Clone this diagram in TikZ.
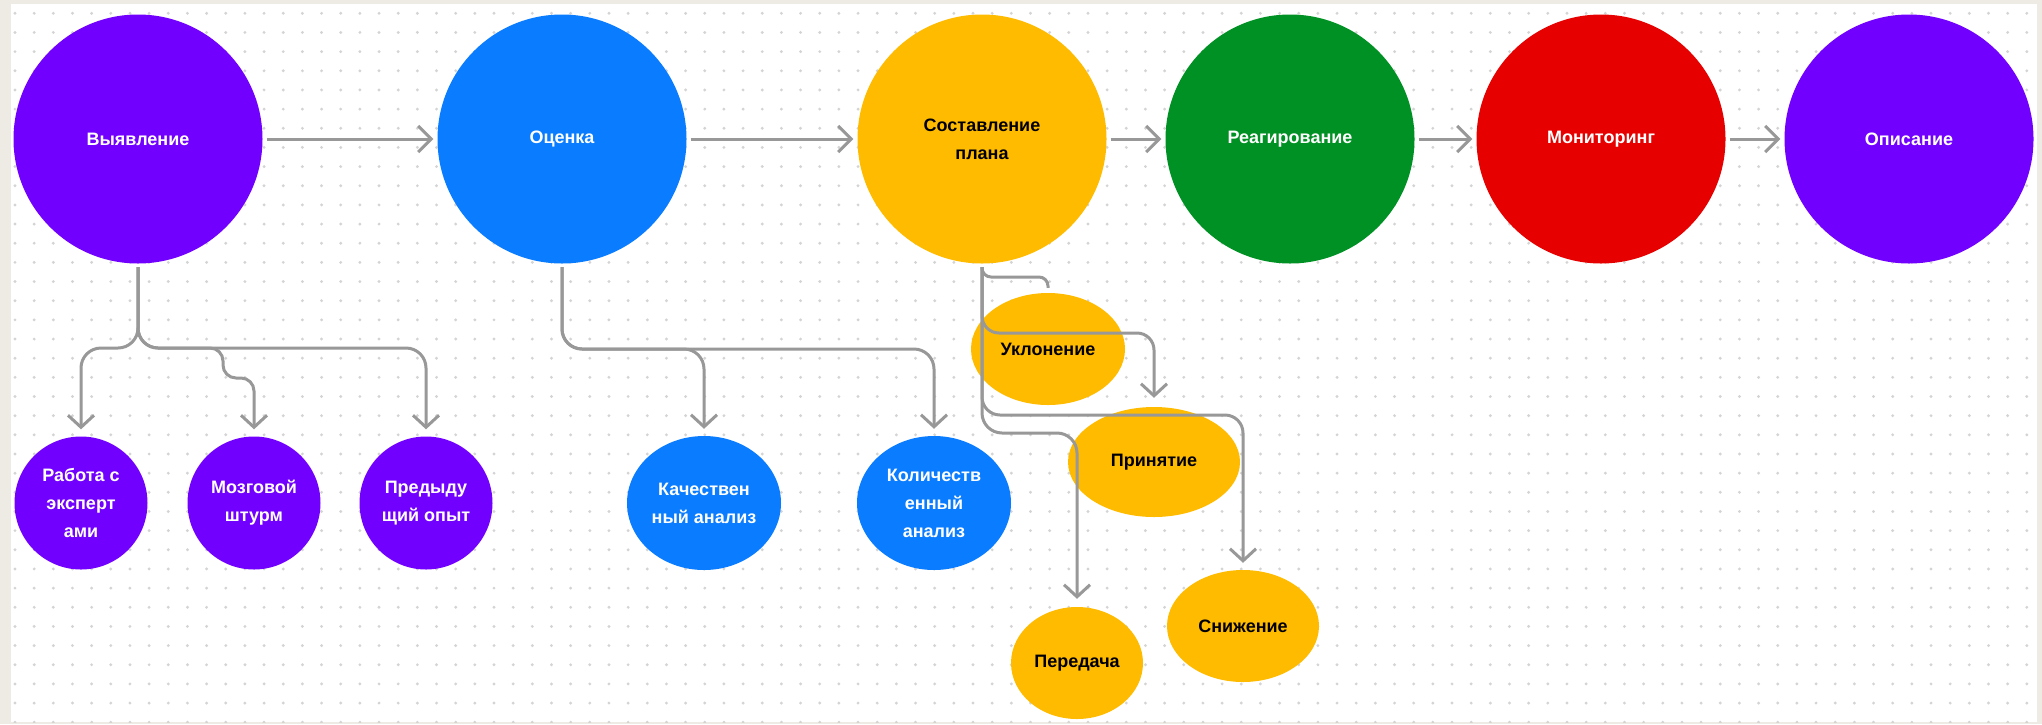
\documentclass[tikz,border=0pt]{standalone}
\usepackage{fontspec}
\setmainfont{Liberation Sans}
\usetikzlibrary{shapes.geometric,arrows.meta}
\definecolor{cPurple}{RGB}{114,0,255}
\definecolor{cBlue}{RGB}{10,124,255}
\definecolor{cYellow}{RGB}{255,187,0}
\definecolor{cGreen}{RGB}{0,145,36}
\definecolor{cRed}{RGB}{230,0,0}
\definecolor{cLine}{RGB}{152,152,152}
\definecolor{cDot}{RGB}{212,212,212}
\definecolor{cFrame}{RGB}{238,235,228}
\begin{document}
\begin{tikzpicture}[x=1pt,y=-1pt,
  lbl/.style={font=\bfseries\fontsize{18}{28}\selectfont, align=center, inner sep=0pt},
  big/.style={lbl, circle, minimum size=249pt, text=white},
  small/.style={lbl, circle, minimum size=133pt, text=white, fill=cPurple},
  oval/.style={lbl, ellipse, text=white, fill=cBlue, minimum width=154pt, minimum height=134pt},
  yoval/.style={lbl, ellipse, text=black, fill=cYellow},
  flow/.style={draw=cLine, line width=3pt, -{Straight Barb[length=13pt,width=26pt]}, shorten <=4pt, shorten >=4pt},
  conn/.style={draw=cLine, line width=3pt, rounded corners=20pt, -{Straight Barb[length=12pt,width=26pt]}, shorten <=3.5pt, shorten >=7pt},
  plainconn/.style={draw=cLine, line width=3pt, rounded corners=9pt, shorten <=3.5pt, shorten >=5pt},
]
\useasboundingbox (0,0) rectangle (2042,724);
\fill[cFrame] (0,0) rectangle (2042,724);
\fill[white] (11,4) rectangle (2037,722);
\begin{scope}
  \clip (11,4) rectangle (2037,722);
  \foreach \i in {0,...,105} {
    \foreach \j in {0,...,37} {
      \fill[cDot] (15+19.16*\i, 13.3+19.16*\j) circle (1.6pt);
    }
  }
\end{scope}

% main row
\node[big, fill=cPurple] (V) at (138,139) {Выявление};
\node[big, fill=cBlue] (O) at (562,139) {Оценка};
\node[big, fill=cYellow, text=black] (S) at (982,139) {Составление\\плана};
\node[big, fill=cGreen] (R) at (1290,139) {Реагирование};
\node[big, fill=cRed] (M) at (1601,139) {Мониторинг};
\node[big, fill=cPurple] (D) at (1909,139) {Описание};

% children of Выявление
\node[small] (P1) at (81,503) {Работа с\\эксперт\\ами};
\node[small] (P2) at (254,503) {Мозговой\\штурм};
\node[small] (P3) at (426,503) {Предыду\\щий опыт};

% children of Оценка
\node[oval] (B1) at (704,503) {Качествен\\ный анализ};
\node[oval] (B2) at (934,503) {Количеств\\енный\\анализ};

% children of Составление плана
\node[yoval, minimum width=154pt, minimum height=112pt] (U) at (1048,349) {Уклонение};
\node[yoval, minimum width=172pt, minimum height=110pt] (Pr) at (1154,462) {Принятие};
\node[yoval, minimum width=152pt, minimum height=112pt] (Sn) at (1243,626) {Снижение};
\node[yoval, minimum width=132pt, minimum height=112pt] (Pe) at (1077,663) {Передача};

% waypoint levels
\coordinate (hV) at (0,348);
\coordinate (hV2) at (0,378);
\coordinate (xM) at (223,0);
\coordinate (hO) at (0,349);
\coordinate (hA) at (0,277);
\coordinate (hB) at (0,333);
\coordinate (hC) at (0,415);
\coordinate (hD) at (0,433);

% main flow
\draw[flow] (V) -- (O);
\draw[flow] (O) -- (S);
\draw[flow] (S) -- (R);
\draw[flow] (R) -- (M);
\draw[flow] (M) -- (D);

% Выявление tree
\draw[conn] (V.south) -- (V.south |- hV) -- (P1.north |- hV) -- (P1.north);
\draw[conn] (V.south) -- (V.south |- hV) -- (P3.north |- hV) -- (P3.north);
\draw[conn] (V.south) -- (V.south |- hV) [rounded corners=13pt] -- (xM |- hV) -- (xM |- hV2) -- (P2.north |- hV2) -- (P2.north);

% Оценка tree
\draw[conn] (O.south) -- (O.south |- hO) -- (B1.north |- hO) -- (B1.north);
\draw[conn] (O.south) -- (O.south |- hO) -- (B2.north |- hO) -- (B2.north);

% Составление плана tree
\draw[plainconn] (S.south) -- (S.south |- hA) -- (U.north |- hA) -- (U.north);
\draw[conn, rounded corners=17pt, shorten >=9pt] (S.south) -- (S.south |- hB) -- (Pr.north |- hB) -- (Pr.north);
\draw[conn, rounded corners=18pt] (S.south) -- (S.south |- hC) -- (Sn.north |- hC) -- (Sn.north);
\draw[conn, rounded corners=20pt, shorten >=8pt] (S.south) -- (S.south |- hD) -- (Pe.north |- hD) -- (Pe.north);
\end{tikzpicture}
\end{document}
